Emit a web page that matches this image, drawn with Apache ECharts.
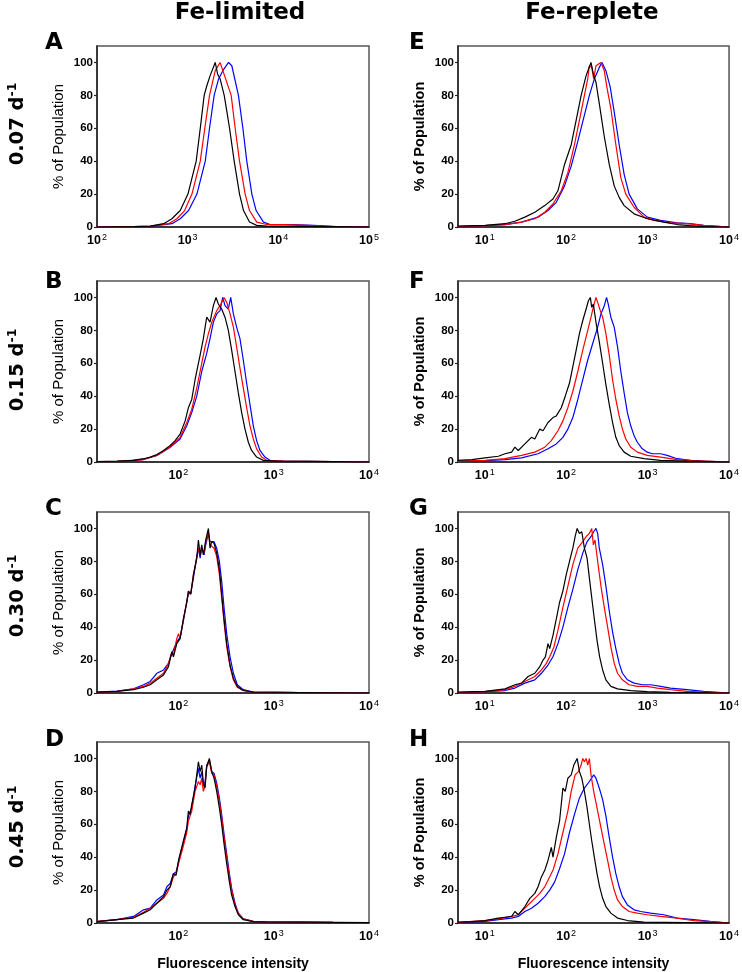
<!DOCTYPE html>
<html><head><meta charset="utf-8">
<script src="https://cdn.jsdelivr.net/npm/echarts@6/dist/echarts.min.js"></script>
<style>html,body{margin:0;padding:0;background:#fff}#c{width:742px;height:972px}</style>
</head><body><div id="c"></div>
<script>
// x: log10(fluorescence intensity), y: % of population
const colTitles = ['Fe-limited', 'Fe-replete'];
const rowRates = ['0.07', '0.15', '0.30', '0.45'];
const panelLetters = [['A','B','C','D'], ['E','F','G','H']];
const yTicks = [0, 20, 40, 60, 80, 100];
const xTicksA = [2, 3, 4, 5];
const xTicksLeft = [2, 3, 4];
const xTicksRight = [1, 2, 3, 4];
const xRangeA = [2, 5];
const xRangeLeft = [1.146, 4];
const xRangeRight = [0.672, 4];

const A_black = [[2.0,0],[2.404,0.2],[2.587,0.5],[2.735,2],[2.826,5],[2.918,10],[3.003,20],[3.094,40],[3.139,60],[3.182,80],[3.212,86],[3.248,92],[3.304,100],[3.330,93],[3.358,90],[3.403,80],[3.433,70],[3.462,60],[3.513,40],[3.572,20],[3.616,10],[3.682,3],[3.762,1],[3.873,0.5],[4.169,0.4],[4.581,0.2],[5,0]];
const A_red = [[2.0,0],[2.404,0.2],[2.587,0.5],[2.790,2],[2.881,5],[2.966,10],[3.047,20],[3.139,40],[3.189,60],[3.241,80],[3.304,95],[3.358,100],[3.388,95],[3.480,80],[3.524,60],[3.572,40],[3.634,20],[3.682,10],[3.762,3],[3.873,1.5],[4.056,1.5],[4.314,1],[4.608,0.3],[5,0]];
const A_blue = [[2.0,0],[2.404,0.1],[2.587,0.4],[2.826,2],[2.918,5],[3.010,10],[3.102,20],[3.194,40],[3.241,60],[3.292,80],[3.341,90],[3.388,95],[3.451,100],[3.487,98],[3.560,80],[3.609,60],[3.652,40],[3.708,20],[3.755,10],[3.836,3],[3.910,1.5],[4.166,1.5],[4.387,1],[4.644,0.3],[5,0]];

const B_black = [[1.146,0.3],[1.355,0.5],[1.530,1],[1.634,2],[1.704,3],[1.774,4.5],[1.844,7],[1.914,10],[1.966,13],[2.018,17],[2.071,25],[2.105,33],[2.140,38],[2.175,50],[2.210,60],[2.228,65],[2.262,75],[2.297,88],[2.332,85],[2.367,95],[2.395,100],[2.419,96],[2.454,93],[2.489,88],[2.524,80],[2.559,68],[2.594,55],[2.629,42],[2.664,30],[2.699,20],[2.734,12],[2.768,7],[2.821,3],[2.891,1],[3.030,0.5],[3.623,0.3],[4.0,0]];
const B_red = [[1.146,0.3],[1.355,0.4],[1.634,1.5],[1.774,4],[1.914,9],[2.018,15],[2.088,24],[2.140,32],[2.193,45],[2.245,60],[2.280,70],[2.315,78],[2.350,85],[2.402,92],[2.437,95],[2.479,100],[2.507,97],[2.542,90],[2.577,82],[2.611,70],[2.646,57],[2.681,45],[2.716,33],[2.751,22],[2.786,14],[2.821,8],[2.873,3],[2.926,1],[3.100,0.5],[3.623,0.3],[4.0,0]];
const B_blue = [[1.146,0.3],[1.355,0.3],[1.634,1.5],[1.774,4],[1.914,9],[2.018,14],[2.088,22],[2.140,30],[2.193,40],[2.245,55],[2.297,66],[2.332,75],[2.367,85],[2.402,90],[2.437,92],[2.465,100],[2.489,95],[2.524,93],[2.549,100],[2.577,90],[2.611,82],[2.646,75],[2.681,62],[2.716,48],[2.751,35],[2.786,22],[2.821,13],[2.856,7],[2.908,3],[2.960,1],[3.100,0.5],[3.623,0.3],[4.0,0]];

const C_black = [[1.146,0.5],[1.355,1],[1.530,2],[1.634,3.5],[1.704,5],[1.774,8],[1.844,11],[1.896,16],[1.931,25],[1.948,22],[1.983,30],[2.018,33],[2.053,45],[2.088,55],[2.105,62],[2.130,60],[2.158,72],[2.193,82],[2.210,93],[2.228,84],[2.245,90],[2.262,84],[2.287,93],[2.315,100],[2.332,88],[2.350,92],[2.374,91],[2.402,85],[2.430,75],[2.454,60],[2.479,45],[2.507,30],[2.542,17],[2.577,9],[2.618,4],[2.681,1.5],[2.786,0.5],[3.274,0.3],[4.0,0]];
const C_red = [[1.146,0.5],[1.355,1],[1.530,2.5],[1.634,4],[1.704,6],[1.774,9],[1.844,12],[1.896,18],[1.931,25],[1.948,23],[1.983,33],[2.001,36],[2.018,33],[2.053,45],[2.088,55],[2.105,62],[2.130,60],[2.158,72],[2.193,82],[2.210,88],[2.228,84],[2.245,88],[2.269,85],[2.287,92],[2.315,98],[2.332,90],[2.350,90],[2.374,88],[2.402,83],[2.430,72],[2.454,58],[2.479,43],[2.507,28],[2.542,16],[2.577,8],[2.618,3.5],[2.681,1.5],[2.786,0.5],[3.274,0.3],[4.0,0]];
const C_blue = [[1.146,0.6],[1.355,1.2],[1.530,2.5],[1.634,5],[1.704,7],[1.774,12],[1.844,14],[1.896,18],[1.931,24],[1.948,23],[1.983,31],[2.018,34],[2.053,44],[2.088,56],[2.105,60],[2.130,61],[2.158,70],[2.193,83],[2.210,88],[2.228,82],[2.245,88],[2.269,84],[2.287,90],[2.315,97],[2.332,92],[2.350,93],[2.374,92],[2.402,88],[2.430,80],[2.454,68],[2.479,52],[2.507,36],[2.542,22],[2.577,12],[2.618,5],[2.681,2],[2.786,0.6],[3.274,0.3],[4.0,0]];

const D_black = [[1.146,0.8],[1.355,2],[1.530,3],[1.634,6],[1.704,8],[1.774,12],[1.844,16],[1.879,20],[1.914,22],[1.948,30],[1.976,29],[2.001,38],[2.018,37],[2.053,50],[2.088,58],[2.105,68],[2.123,66],[2.140,72],[2.175,82],[2.210,98],[2.228,92],[2.245,96],[2.262,85],[2.280,82],[2.297,95],[2.325,100],[2.350,92],[2.374,88],[2.402,80],[2.430,70],[2.454,60],[2.479,48],[2.507,36],[2.535,25],[2.559,17],[2.594,10],[2.629,5],[2.681,2],[2.786,0.8],[2.926,0.6],[3.274,0.5],[3.623,0.4],[4.0,0.3]];
const D_red = [[1.146,1],[1.355,2],[1.530,3.5],[1.634,6.5],[1.704,9],[1.774,12],[1.844,15],[1.879,18],[1.914,22],[1.948,28],[1.976,30],[2.001,36],[2.018,35],[2.053,47],[2.088,55],[2.105,62],[2.123,63],[2.140,68],[2.175,80],[2.210,86],[2.228,84],[2.245,88],[2.262,80],[2.280,84],[2.297,95],[2.325,98],[2.350,91],[2.374,90],[2.402,83],[2.430,74],[2.454,64],[2.479,52],[2.507,40],[2.535,28],[2.559,20],[2.594,11],[2.629,6],[2.681,2.5],[2.786,1],[2.926,0.7],[3.623,0.4],[4.0,0.3]];
const D_blue = [[1.146,0.8],[1.355,2],[1.530,4],[1.634,8],[1.704,9],[1.774,14],[1.844,17],[1.879,22],[1.914,24],[1.948,30],[1.976,31],[2.001,37],[2.018,36],[2.053,49],[2.088,57],[2.105,65],[2.123,64],[2.140,70],[2.175,83],[2.210,94],[2.228,88],[2.245,92],[2.262,83],[2.280,86],[2.297,96],[2.325,99],[2.350,92],[2.374,91],[2.402,85],[2.430,76],[2.454,66],[2.479,54],[2.507,42],[2.535,30],[2.559,21],[2.594,12],[2.629,6],[2.681,2.5],[2.786,1],[2.926,0.7],[3.623,0.4],[4.0,0.3]];

const E_black = [[0.67,0.5],[1.005,1],[1.249,2],[1.371,3.5],[1.493,6],[1.615,9],[1.737,13],[1.838,17],[1.899,22],[1.980,38],[2.062,50],[2.123,65],[2.184,80],[2.245,92],[2.305,100],[2.338,92],[2.366,88],[2.407,75],[2.468,55],[2.529,38],[2.590,25],[2.651,18],[2.712,13],[2.834,8],[2.996,5],[3.199,3],[3.362,1.5],[3.524,0.8],[3.687,0.3],[4.0,0]];
const E_red = [[0.67,0.3],[1.005,0.8],[1.249,1.5],[1.452,3],[1.615,5],[1.737,9],[1.838,14],[1.940,22],[2.021,33],[2.102,50],[2.163,65],[2.224,80],[2.265,90],[2.285,98],[2.314,97],[2.338,90],[2.366,98],[2.427,100],[2.468,95],[2.500,85],[2.549,72],[2.610,50],[2.671,30],[2.732,20],[2.834,12],[2.956,6],[3.078,4],[3.281,2.5],[3.484,2],[3.687,1],[4.0,0]];
const E_blue = [[0.67,0.3],[1.005,0.8],[1.249,1.5],[1.452,3],[1.655,6],[1.777,10],[1.879,15],[1.980,25],[2.062,37],[2.143,52],[2.224,68],[2.285,80],[2.346,90],[2.407,97],[2.440,100],[2.488,95],[2.541,85],[2.590,70],[2.651,50],[2.712,32],[2.773,20],[2.874,11],[2.996,6],[3.159,4],[3.362,2.5],[3.524,2],[3.687,1],[4.0,0]];

const F_black = [[0.67,1],[0.843,1.5],[1.005,2.5],[1.168,3.5],[1.249,5],[1.330,6],[1.371,9],[1.412,7],[1.493,11],[1.574,15],[1.615,14],[1.676,20],[1.716,19],[1.777,24],[1.838,27],[1.879,28],[1.940,33],[1.989,40],[2.041,48],[2.082,58],[2.123,68],[2.163,78],[2.204,86],[2.245,93],[2.273,98],[2.297,100],[2.314,94],[2.334,96],[2.366,85],[2.407,73],[2.448,60],[2.488,47],[2.529,35],[2.570,24],[2.610,15],[2.651,10],[2.712,6],[2.793,3.5],[2.956,2],[3.159,1],[3.484,0.5],[4.0,0]];
const F_red = [[0.67,0.5],[1.005,1],[1.249,2],[1.452,4],[1.615,6],[1.737,9],[1.818,13],[1.899,19],[1.960,25],[2.021,33],[2.082,43],[2.143,55],[2.204,68],[2.265,80],[2.305,88],[2.338,95],[2.366,100],[2.387,97],[2.419,92],[2.448,88],[2.488,78],[2.529,65],[2.570,50],[2.610,38],[2.651,28],[2.691,20],[2.732,14],[2.793,9],[2.874,6],[2.996,4],[3.159,3],[3.362,1.5],[3.565,0.8],[4.0,0]];
const F_blue = [[0.67,0.3],[1.005,0.8],[1.249,1.5],[1.452,2.5],[1.655,5],[1.777,8],[1.879,11],[1.960,15],[2.021,20],[2.082,27],[2.143,38],[2.204,50],[2.265,62],[2.326,72],[2.387,82],[2.427,90],[2.468,95],[2.496,100],[2.517,96],[2.549,88],[2.590,82],[2.631,70],[2.671,55],[2.712,42],[2.752,30],[2.793,22],[2.834,16],[2.874,12],[2.935,8],[2.996,6],[3.057,5],[3.159,5],[3.240,4],[3.362,2],[3.524,1],[3.687,0.5],[4.0,0]];

const G_black = [[0.67,0.5],[1.005,1],[1.249,2.5],[1.371,5],[1.452,6],[1.533,10],[1.615,12],[1.676,16],[1.716,20],[1.745,22],[1.777,30],[1.798,27],[1.838,35],[1.879,45],[1.919,55],[1.960,62],[2.001,72],[2.041,80],[2.082,88],[2.110,95],[2.135,100],[2.163,97],[2.192,98],[2.224,88],[2.257,82],[2.285,70],[2.314,58],[2.346,45],[2.379,32],[2.411,22],[2.448,14],[2.488,8],[2.549,4],[2.631,2.5],[2.793,1.5],[2.996,0.8],[3.281,0.4],[4.0,0]];
const G_red = [[0.67,0.3],[1.005,0.8],[1.249,2],[1.371,4],[1.493,7],[1.615,10],[1.696,14],[1.757,18],[1.798,22],[1.850,28],[1.899,38],[1.960,52],[2.021,65],[2.082,78],[2.143,88],[2.204,92],[2.245,95],[2.285,97],[2.314,100],[2.334,90],[2.354,93],[2.387,80],[2.427,65],[2.468,52],[2.509,40],[2.549,28],[2.590,18],[2.631,12],[2.691,8],[2.773,5],[2.874,4],[2.996,4],[3.118,3],[3.281,2],[3.484,1],[3.687,0.5],[4.0,0]];
const G_blue = [[0.67,0.3],[1.005,0.8],[1.249,1.5],[1.371,3],[1.493,6],[1.615,8],[1.696,12],[1.777,17],[1.838,22],[1.899,30],[1.960,40],[2.021,52],[2.082,63],[2.143,75],[2.204,85],[2.257,92],[2.305,95],[2.338,98],[2.366,100],[2.387,97],[2.407,88],[2.448,78],[2.488,65],[2.529,50],[2.570,37],[2.610,27],[2.651,18],[2.691,12],[2.752,8],[2.834,6],[2.935,5],[3.037,5],[3.159,4],[3.281,3],[3.484,2],[3.687,1],[4.0,0]];

const H_black = [[0.67,0.5],[0.843,0.8],[1.005,1.5],[1.168,3],[1.249,3.5],[1.330,4],[1.371,7],[1.412,5],[1.493,10],[1.554,15],[1.615,18],[1.655,22],[1.696,28],[1.737,32],[1.777,38],[1.818,46],[1.838,40],[1.879,52],[1.919,62],[1.960,82],[1.989,80],[2.021,88],[2.062,90],[2.094,96],[2.135,100],[2.163,92],[2.192,88],[2.224,80],[2.257,70],[2.285,60],[2.314,50],[2.346,40],[2.379,30],[2.411,22],[2.448,15],[2.488,10],[2.549,6],[2.631,3],[2.752,1.5],[2.956,0.5],[4.0,0]];
const H_red = [[0.67,0.3],[0.843,1],[1.005,1.5],[1.168,2.5],[1.330,4],[1.412,5],[1.493,9],[1.554,12],[1.615,15],[1.676,18],[1.737,22],[1.777,26],[1.838,32],[1.899,42],[1.960,55],[2.021,68],[2.062,80],[2.110,90],[2.151,92],[2.184,96],[2.204,100],[2.224,98],[2.245,100],[2.265,96],[2.285,100],[2.305,90],[2.338,80],[2.379,70],[2.427,58],[2.468,48],[2.509,38],[2.549,28],[2.590,20],[2.631,14],[2.691,10],[2.773,7],[2.874,6],[2.996,5],[3.159,4],[3.362,3],[3.565,1.5],[3.768,0.8],[4.0,0]];
const H_blue = [[0.67,0.3],[1.005,1],[1.168,2],[1.330,3],[1.412,4],[1.493,7],[1.574,9],[1.655,12],[1.737,16],[1.798,20],[1.859,25],[1.919,33],[1.980,42],[2.041,55],[2.102,66],[2.163,76],[2.224,82],[2.285,86],[2.338,90],[2.366,88],[2.407,82],[2.448,75],[2.488,65],[2.529,52],[2.570,40],[2.610,30],[2.651,22],[2.691,16],[2.752,11],[2.834,8],[2.915,7],[3.037,6],[3.199,5],[3.362,3],[3.565,2],[3.768,1],[4.0,0]];

const panels = [
  {col:0,row:0,range:xRangeA,ticks:xTicksA,blue:A_blue,red:A_red,black:A_black},
  {col:0,row:1,range:xRangeLeft,ticks:xTicksLeft,blue:B_blue,red:B_red,black:B_black},
  {col:0,row:2,range:xRangeLeft,ticks:xTicksLeft,blue:C_blue,red:C_red,black:C_black},
  {col:0,row:3,range:xRangeLeft,ticks:xTicksLeft,blue:D_blue,red:D_red,black:D_black},
  {col:1,row:0,range:xRangeRight,ticks:xTicksRight,blue:E_blue,red:E_red,black:E_black},
  {col:1,row:1,range:xRangeRight,ticks:xTicksRight,blue:F_blue,red:F_red,black:F_black},
  {col:1,row:2,range:xRangeRight,ticks:xTicksRight,blue:G_blue,red:G_red,black:G_black},
  {col:1,row:3,range:xRangeRight,ticks:xTicksRight,blue:H_blue,red:H_red,black:H_black}
];

const colLeft = [97, 458], plotW = 272;
const rowTop = [46, 281, 512, 742], plotH = 181;
const SANS = 'Liberation Sans, Arial, sans-serif';
const WIDE = 'DejaVu Sans, sans-serif';

const grid = [], xAxis = [], yAxis = [], series = [];
panels.forEach((p, i) => {
  grid.push({left: colLeft[p.col], top: rowTop[p.row], width: plotW, height: plotH,
    show: true, borderColor: '#555', borderWidth: 1.5, containLabel: false});
  xAxis.push({type: 'value', gridIndex: i, min: p.range[0], max: p.range[1],
    axisLine: {show: true, lineStyle: {color: '#222', width: 1.5}},
    axisTick: {show: false}, splitLine: {show: false},
    axisLabel: {customValues: p.ticks, margin: 6, color: '#000',
      formatter: v => '{b|10}{s|' + Math.round(v) + '}',
      rich: {b: {fontSize: 12.5, fontWeight: 'bold', fontFamily: SANS, color: '#000', lineHeight: 15},
             s: {fontSize: 9, fontFamily: SANS, color: '#000', verticalAlign: 'top', lineHeight: 10, padding: [0, 0, 0, 1]}}},
    name: p.row === 3 ? 'Fluorescence intensity' : '', nameLocation: 'middle', nameGap: 34,
    nameTextStyle: {fontSize: 14, fontWeight: 'bold', fontFamily: SANS, color: '#000'}});
  yAxis.push({type: 'value', gridIndex: i, min: 0, max: 110,
    axisLine: {show: true, lineStyle: {color: '#222', width: 1.5}},
    axisTick: {show: true, length: 3, customValues: yTicks, lineStyle: {color: '#222', width: 1.2}},
    splitLine: {show: false},
    axisLabel: {customValues: yTicks, margin: 4, fontSize: 11.5, fontWeight: 'bold', fontFamily: SANS, color: '#000'},
    name: '% of Population', nameLocation: 'middle', nameGap: 31,
    nameTextStyle: {fontSize: p.col === 0 ? 15 : 14.5, fontWeight: p.col === 0 ? 'normal' : 'bold', fontFamily: SANS, color: '#000'}});
  [['blue', '#0000ff'], ['red', '#ff0000'], ['black', '#000000']].forEach(([k, c]) => {
    series.push({type: 'line', xAxisIndex: i, yAxisIndex: i, data: p[k], showSymbol: false,
      symbol: 'none', lineStyle: {color: c, width: 1.2}, itemStyle: {color: c}, silent: true});
  });
});

const graphic = [];
colTitles.forEach((t, c) => {
  graphic.push({type: 'text', x: [240, 592][c], y: 13,
    style: {text: t, font: 'bold 23px ' + WIDE, fill: '#000', align: 'center', verticalAlign: 'middle', textAlign: 'center', textVerticalAlign: 'middle'}});
});
const rowLabelY = [124, 370, 596, 827];
rowRates.forEach((r, k) => {
  graphic.push({type: 'text', x: 18, y: rowLabelY[k], rotation: Math.PI / 2,
    style: {text: '{m|' + r + ' d}{s|-1}', align: 'center', verticalAlign: 'middle', textAlign: 'center', textVerticalAlign: 'middle',
      rich: {m: {fontSize: 19.5, fontWeight: 'bold', fontFamily: WIDE, fill: '#000', lineHeight: 24},
             s: {fontSize: 12.5, fontWeight: 'bold', fontFamily: WIDE, fill: '#000', verticalAlign: 'top', lineHeight: 14}}}});
});
const letterTop = [33, 272, 499, 730];
panelLetters.forEach((col, c) => col.forEach((L, k) => {
  graphic.push({type: 'text', x: [45, 409][c], y: letterTop[k] - 1,
    style: {text: L, font: 'bold 23px ' + WIDE, fill: '#000', align: 'left', verticalAlign: 'top', textAlign: 'left', textVerticalAlign: 'top'}});
}));

const chart = echarts.init(document.getElementById('c'), null, {renderer: 'canvas'});
chart.setOption({animation: false, backgroundColor: '#fff', textStyle: {fontFamily: SANS},
  grid, xAxis, yAxis, series, graphic});
</script></body></html>
